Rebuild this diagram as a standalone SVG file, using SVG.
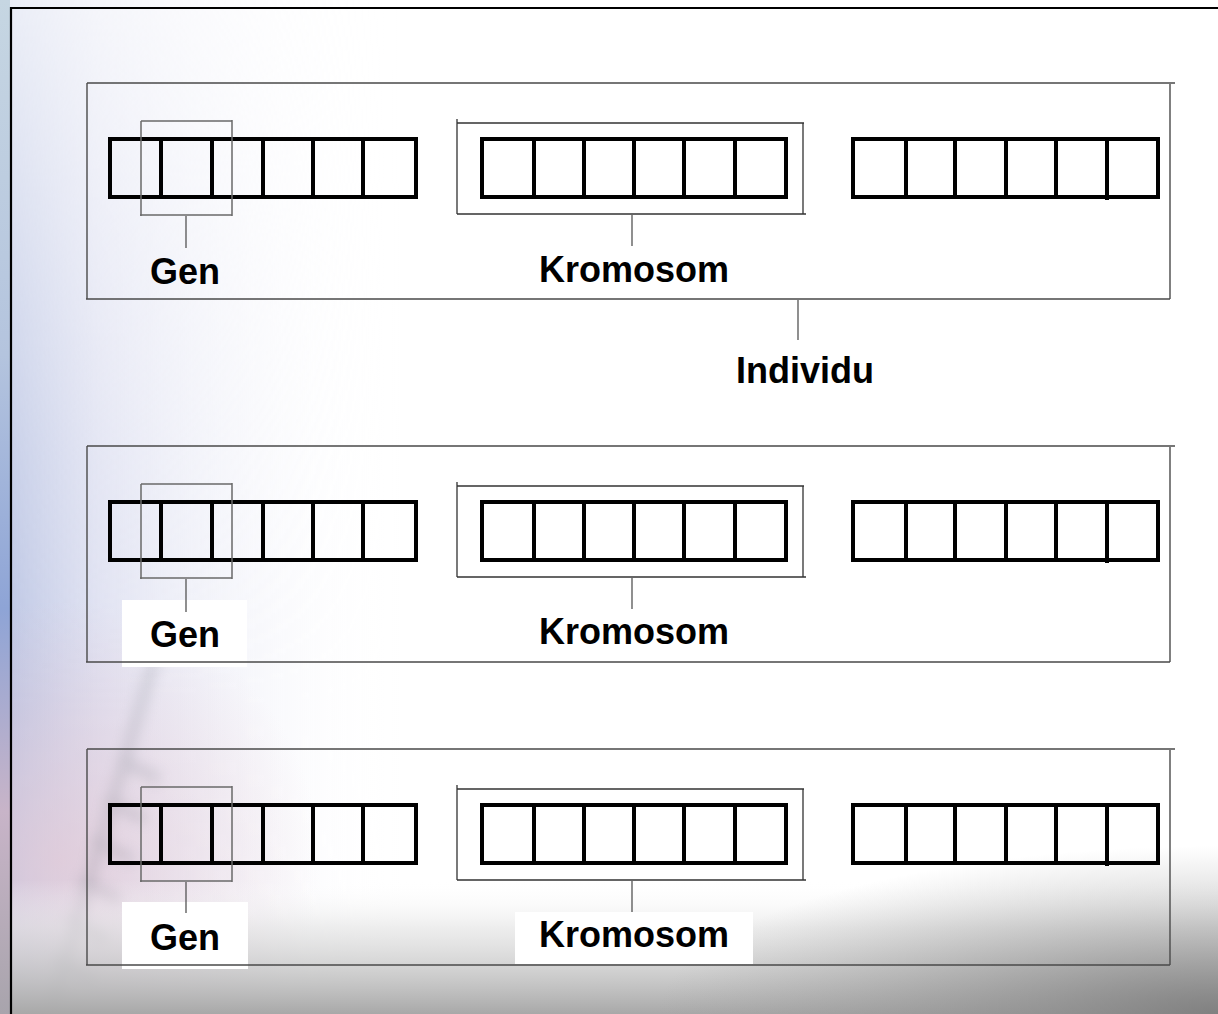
<svg xmlns="http://www.w3.org/2000/svg" width="1218" height="1014" viewBox="0 0 1218 1014">
  <defs>
    <linearGradient id="leftFade" x1="0" y1="0" x2="1" y2="0">
      <stop offset="0" stop-color="#a9b6dc" stop-opacity="0.85"/>
      <stop offset="0.25" stop-color="#c4c8e6" stop-opacity="0.55"/>
      <stop offset="1" stop-color="#ffffff" stop-opacity="0"/>
    </linearGradient>
    <linearGradient id="leftVert" x1="0" y1="0" x2="0" y2="1">
      <stop offset="0" stop-color="#fff" stop-opacity="0.3"/>
      <stop offset="0.45" stop-color="#fff" stop-opacity="0.8"/>
      <stop offset="0.7" stop-color="#fff" stop-opacity="1"/>
      <stop offset="1" stop-color="#fff" stop-opacity="0.9"/>
    </linearGradient>
    <mask id="leftMask">
      <rect x="0" y="0" width="400" height="1014" fill="url(#leftVert)"/>
    </mask>
    <linearGradient id="strip" x1="0" y1="0" x2="0" y2="1">
      <stop offset="0" stop-color="#c6d6e2"/>
      <stop offset="0.35" stop-color="#b4c4de"/>
      <stop offset="0.6" stop-color="#8ea4d6"/>
      <stop offset="0.8" stop-color="#c8b4c8"/>
      <stop offset="1" stop-color="#a8a4ac"/>
    </linearGradient>
    <linearGradient id="bottomGray" x1="0" y1="0" x2="0" y2="1">
      <stop offset="0" stop-color="#ffffff" stop-opacity="0"/>
      <stop offset="0.35" stop-color="#e2e2e2" stop-opacity="0.6"/>
      <stop offset="1" stop-color="#a8a8a8" stop-opacity="1"/>
    </linearGradient>
    <radialGradient id="cornerGray" cx="1218" cy="1014" r="560" gradientUnits="userSpaceOnUse" gradientTransform="translate(1218 1014) scale(1 0.3) translate(-1218 -1014)">
      <stop offset="0" stop-color="#7c7c7c" stop-opacity="0.9"/>
      <stop offset="1" stop-color="#9a9a9a" stop-opacity="0"/>
    </radialGradient>
    <radialGradient id="pinkish" cx="60" cy="860" r="260" gradientUnits="userSpaceOnUse">
      <stop offset="0" stop-color="#e4c8d4" stop-opacity="0.7"/>
      <stop offset="1" stop-color="#e4c8d4" stop-opacity="0"/>
    </radialGradient>
    <filter id="blur" x="-50%" y="-50%" width="200%" height="200%">
      <feGaussianBlur stdDeviation="7"/>
    </filter>
    <style>
      .frame { stroke: #000; stroke-width: 2.2; fill: none; }
      .indiv { stroke: #4a4a4a; stroke-width: 1.4; fill: none; }
      .chbox { stroke: #333; stroke-width: 1.3; fill: none; }
      .genbox { stroke: #6a6a6a; stroke-width: 1.5; fill: none; }
      .cells { stroke: #000; stroke-width: 4; fill: none; }
      .conn { stroke: #555; stroke-width: 1.3; fill: none; }
      .lbl { font-family: "Liberation Sans", Arial, sans-serif; font-weight: bold; font-size: 36px; fill: #000; text-anchor: middle; }
      .lblbg { fill: #fff; }
    </style>
    <g id="chromCells1">
      <rect class="cells" x="110" y="139" width="306" height="58"/>
      <path class="cells" d="M161,139V197M212,139V197M263,139V197M313,139V197M363,139V197"/>
    </g>
  </defs>

  <!-- background -->
  <rect x="0" y="0" width="1218" height="1014" fill="#ffffff"/>
  <rect x="0" y="0" width="400" height="1014" fill="url(#leftFade)" mask="url(#leftMask)"/>
  <rect x="0" y="600" width="320" height="414" fill="url(#pinkish)"/>
  <g filter="url(#blur)" opacity="0.3" stroke="#7a8088" stroke-width="8" fill="none">
    <path d="M160,640 L50,1014"/>
    <path d="M120,760 L160,780 M106,800 L146,820 M93,840 L133,860 M80,880 L120,900 M67,920 L107,940 M54,960 L94,980"/>
  </g>
  <rect x="0" y="880" width="1218" height="134" fill="url(#bottomGray)"/>
  <rect x="0" y="0" width="1218" height="1014" fill="url(#cornerGray)"/>
  <rect x="0" y="0" width="10" height="1014" fill="url(#strip)"/>

  <!-- frame -->
  <path class="frame" d="M10,8 H1218 M11,7 V1014"/>

  <!-- label backgrounds -->
  <g id="label-backgrounds">
    <rect class="lblbg" x="122" y="600" width="125" height="67"/>
    <rect class="lblbg" x="122" y="902" width="126" height="67"/>
    <rect class="lblbg" x="515" y="912" width="238" height="52"/>
  </g>

  <!-- Row 1 -->
  <g id="individu-1">
    <path class="indiv" d="M87,83 H1175 M1170,84 V299 M86,299 H1170 M87,83 V299"/>
    <g id="kromosom-1a"><use href="#chromCells1"/></g>
    <g id="kromosom-1b">
      <path class="chbox" d="M457,119 V214 M457,123 H804 M803,123 V214 M457,214 H806"/>
      <rect class="cells" x="482" y="139" width="304" height="58"/>
      <path class="cells" d="M534,139V197M584,139V197M634,139V197M684,139V197M735,139V197"/>
    </g>
    <g id="kromosom-1c">
      <rect class="cells" x="853" y="139" width="305" height="58"/>
      <path class="cells" d="M906,139V197M955,139V197M1006,139V197M1056,139V197M1107,139V200"/>
    </g>
    <g id="gen-1">
      <path class="genbox" d="M141,121 H232 M141,121 V216 M232,120 V216 M140,215 H232"/>
    </g>
  </g>

  <!-- Row 2 -->
  <g id="individu-2" transform="translate(0,363)">
    <path class="indiv" d="M87,83 H1175 M1170,84 V299 M86,299 H1170 M87,83 V299"/>
    <g id="kromosom-2a"><use href="#chromCells1"/></g>
    <g id="kromosom-2b">
      <path class="chbox" d="M457,119 V214 M457,123 H804 M803,123 V214 M457,214 H806"/>
      <rect class="cells" x="482" y="139" width="304" height="58"/>
      <path class="cells" d="M534,139V197M584,139V197M634,139V197M684,139V197M735,139V197"/>
    </g>
    <g id="kromosom-2c">
      <rect class="cells" x="853" y="139" width="305" height="58"/>
      <path class="cells" d="M906,139V197M955,139V197M1006,139V197M1056,139V197M1107,139V200"/>
    </g>
    <g id="gen-2">
      <path class="genbox" d="M141,121 H232 M141,121 V216 M232,120 V216 M140,215 H232"/>
    </g>
  </g>

  <!-- Row 3 -->
  <g id="individu-3" transform="translate(0,666)">
    <path class="indiv" d="M87,83 H1175 M1170,84 V299 M86,299 H1170 M87,83 V299"/>
    <g id="kromosom-3a"><use href="#chromCells1"/></g>
    <g id="kromosom-3b">
      <path class="chbox" d="M457,119 V214 M457,123 H804 M803,123 V214 M457,214 H806"/>
      <rect class="cells" x="482" y="139" width="304" height="58"/>
      <path class="cells" d="M534,139V197M584,139V197M634,139V197M684,139V197M735,139V197"/>
    </g>
    <g id="kromosom-3c">
      <rect class="cells" x="853" y="139" width="305" height="58"/>
      <path class="cells" d="M906,139V197M955,139V197M1006,139V197M1056,139V197M1107,139V200"/>
    </g>
    <g id="gen-3">
      <path class="genbox" d="M141,121 H232 M141,121 V216 M232,120 V216 M140,215 H232"/>
    </g>
  </g>

  <!-- connectors -->
  <g id="connectors">
    <path class="conn" d="M186,216 V248 M632,215 V246 M798,300 V340"/>
    <path class="conn" d="M186,579 V612 M632,578 V609"/>
    <path class="conn" d="M186,882 V913 M632,881 V912"/>
  </g>

  <!-- labels -->
  <g id="labels">
    <text class="lbl" x="185" y="284">Gen</text>
    <text class="lbl" x="634" y="282">Kromosom</text>
    <text class="lbl" x="805" y="383">Individu</text>
    <text class="lbl" x="185" y="647">Gen</text>
    <text class="lbl" x="634" y="644">Kromosom</text>
    <text class="lbl" x="185" y="950">Gen</text>
    <text class="lbl" x="634" y="947">Kromosom</text>
  </g>
</svg>
